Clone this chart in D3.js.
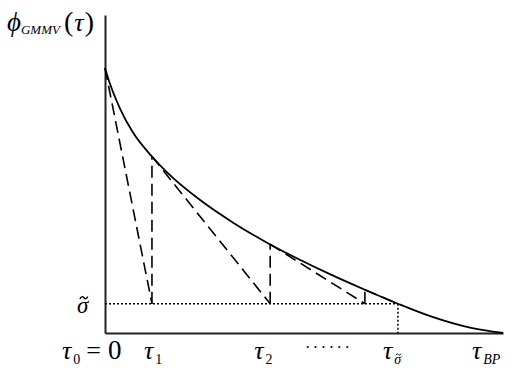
<!DOCTYPE html>
<html>
<head>
<meta charset="utf-8">
<script src="https://cdn.jsdelivr.net/npm/d3@7"></script>
<style>
  body { margin: 0; background: #fff; }
</style>
</head>
<body>
<svg id="chart" width="512" height="383" font-family="'Liberation Serif', 'DejaVu Serif', serif"></svg>
<script>
// curve phi_GMMV(tau) (tau_BP = 10)
var curveTau = [0, 0.13, 0.38, 0.7, 1.18, 1.56, 2.39, 3.22, 4.07, 4.82, 5.65, 6.53, 7.36, 8.17, 9.17, 10];
var curvePhi = [8.33, 7.82, 7.05, 6.31, 5.55, 5.05, 4.18, 3.47, 2.84, 2.35, 1.85, 1.36, 0.92, 0.53, 0.17, 0];

// breakpoints of the iteration
var stepTau = [0, 1.18, 4.15, 6.53];
var stepPhi = [8.33, 5.55, 2.79, 1.36];
var sigma = 0.92;
var tauSigma = 7.36;

// tick labels under the axis
var tickNames = ["τ0", "τ1", "τ2", "dots", "τσ", "τBP"];
var tickTau = [0, 1.18, 4.15, 5.5, 7.36, 10];

var svg = d3.select("#chart");
var x = d3.scaleLinear().domain([0, 10]).range([105, 503]);
var y = d3.scaleLinear().domain([0, 10]).range([333, 15]);

// axes (no ticks, just the domain lines)
svg.append("g")
  .attr("transform", "translate(0," + y(0) + ")")
  .call(d3.axisBottom(x).tickValues([]).tickSizeOuter(0))
  .select(".domain").attr("stroke", "#222").attr("stroke-width", 2);
svg.append("g")
  .attr("transform", "translate(" + x(0) + ",0)")
  .call(d3.axisLeft(y).tickValues([]).tickSizeOuter(0))
  .select(".domain").attr("stroke", "#222").attr("stroke-width", 2);

// the curve
var pts = curveTau.map(function (t, i) { return [t, curvePhi[i]]; });
var line = d3.line()
  .x(function (d) { return x(d[0]); })
  .y(function (d) { return y(d[1]); })
  .curve(d3.curveMonotoneX);
svg.append("path")
  .attr("d", line(pts))
  .attr("fill", "none")
  .attr("stroke", "#000")
  .attr("stroke-width", 1.8);

// dotted sigma level and drop at tau_sigma
svg.append("line")
  .attr("x1", x(0)).attr("x2", x(tauSigma))
  .attr("y1", y(sigma)).attr("y2", y(sigma))
  .attr("stroke", "#000").attr("stroke-width", 1.5)
  .attr("stroke-dasharray", "2,2");
svg.append("line")
  .attr("x1", x(tauSigma)).attr("x2", x(tauSigma))
  .attr("y1", y(sigma)).attr("y2", y(0))
  .attr("stroke", "#000").attr("stroke-width", 1.5)
  .attr("stroke-dasharray", "2,2");

// dashed saw-tooth
var segs = [];
for (var i = 0; i < stepTau.length; i++) {
  var next = i + 1 < stepTau.length ? stepTau[i + 1] : tauSigma;
  segs.push([[stepTau[i], stepPhi[i]], [next, sigma]]);
  if (i + 1 < stepTau.length) segs.push([[next, sigma], [next, stepPhi[i + 1]]]);
}
svg.selectAll("line.saw")
  .data(segs)
  .enter().append("line")
  .attr("class", "saw")
  .attr("x1", function (d) { return x(d[0][0]); })
  .attr("y1", function (d) { return y(d[0][1]); })
  .attr("x2", function (d) { return x(d[1][0]); })
  .attr("y2", function (d) { return y(d[1][1]); })
  .attr("stroke", "#000").attr("stroke-width", 1.6)
  .attr("stroke-dasharray", "12,6");

// tilde accent drawn as a little path over a glyph
function tilde(tspan, cy, w, h, sw) {
  var r = tspan.node().getExtentOfChar(0);
  var cx = r.x + r.width / 2 + w * 0.15;
  var p = d3.path();
  p.moveTo(cx - w / 2, cy + h / 2);
  p.quadraticCurveTo(cx - w / 4, cy - h, cx, cy);
  p.quadraticCurveTo(cx + w / 4, cy + h, cx + w / 2, cy - h / 2);
  svg.append("path").attr("d", p.toString())
    .attr("fill", "none").attr("stroke", "#000").attr("stroke-width", sw);
}

// y label
var yl = svg.append("text").attr("x", 7).attr("y", 31);
yl.append("tspan").attr("font-style", "italic").attr("font-size", 27).text("ϕ");
yl.append("tspan").attr("font-style", "italic").attr("font-size", 13).attr("dy", 3).text("GMMV");
yl.append("tspan").attr("font-size", 28).attr("dy", -3).attr("dx", 4).text("(");
yl.append("tspan").attr("font-style", "italic").attr("font-size", 26).attr("dx", 1).text("τ");
yl.append("tspan").attr("font-size", 28).attr("dx", 1).text(")");

// sigma label
var sb = y(sigma) + 9;
var sl = svg.append("text").attr("x", 77).attr("y", sb);
var sg = sl.append("tspan").attr("font-style", "italic").attr("font-size", 23).text("σ");
tilde(sg, sb - 15, 8, 2.6, 1.3);

// bottom labels
var by = 359;
function tauLabel(px, sub, subStyle) {
  var t = svg.append("text").attr("x", px).attr("y", by);
  t.append("tspan").attr("font-style", "italic").attr("font-size", 26).text("τ");
  var s = t.append("tspan").attr("font-size", 14).attr("dy", 5).attr("dx", 2).text(sub);
  if (subStyle) s.attr("font-style", "italic");
  return s;
}
tickNames.forEach(function (n, i) {
  var px = x(tickTau[i]);
  if (n === "τ0") {
    var t = d3.select(tauLabel(px - 43, "0").node().parentNode);
    t.append("tspan").attr("font-size", 26).attr("dy", -5).attr("dx", 6).text("=");
    t.append("tspan").attr("font-size", 27).attr("dx", 7).text("0");
  } else if (n === "τ1") {
    tauLabel(px - 8, "1");
  } else if (n === "τ2") {
    tauLabel(px - 16, "2");
  } else if (n === "dots") {
    svg.append("text").attr("x", px - 19).attr("y", by - 6)
      .attr("font-size", 16).attr("letter-spacing", 2.6).text("······");
  } else if (n === "τσ") {
    var s = tauLabel(px - 15, "σ", true);
    tilde(s, by - 4.5, 5, 1.8, 0.9);
  } else {
    tauLabel(px - 31, "BP", true);
  }
});
</script>
</body>
</html>
